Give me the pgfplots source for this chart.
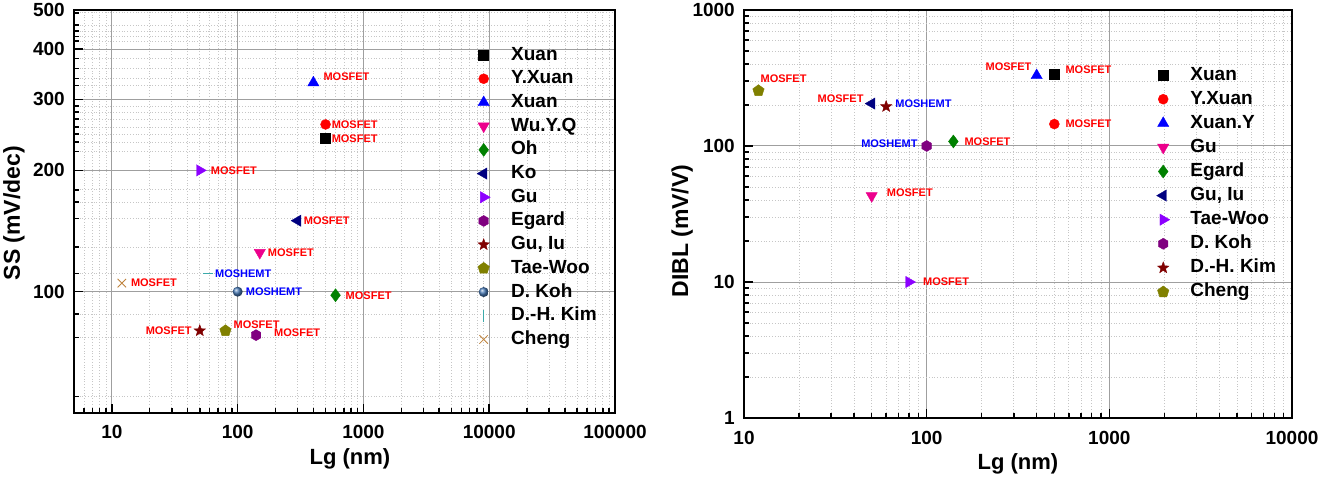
\documentclass[border=0pt]{standalone}
\usepackage{fontspec}
\setmainfont{Liberation Sans}
\usepackage{pgfplots}
\pgfplotsset{compat=1.18}
\definecolor{cviolet}{RGB}{140,0,255}
\definecolor{cgreen}{RGB}{0,128,0}
\definecolor{cnavy}{RGB}{0,0,128}
\definecolor{cpurple}{RGB}{128,0,128}
\definecolor{cdred}{RGB}{128,0,0}
\definecolor{colive}{RGB}{128,128,0}
\definecolor{csteel}{RGB}{70,120,180}
\definecolor{cteal}{RGB}{60,170,170}
\definecolor{ctan}{RGB}{190,130,60}
\pgfdeclareplotmark{hexagon*}{%
  \pgfpathmoveto{\pgfpointpolar{30}{\pgfplotmarksize}}%
  \pgfpathlineto{\pgfpointpolar{90}{\pgfplotmarksize}}%
  \pgfpathlineto{\pgfpointpolar{150}{\pgfplotmarksize}}%
  \pgfpathlineto{\pgfpointpolar{210}{\pgfplotmarksize}}%
  \pgfpathlineto{\pgfpointpolar{270}{\pgfplotmarksize}}%
  \pgfpathlineto{\pgfpointpolar{330}{\pgfplotmarksize}}%
  \pgfpathclose\pgfusepathqfillstroke}
\pgfdeclareplotmark{fstar}{%
  \pgfpathmoveto{\pgfpointpolar{90}{\pgfplotmarksize}}%
  \pgfpathlineto{\pgfpointpolar{126}{0.42\pgfplotmarksize}}%
  \pgfpathlineto{\pgfpointpolar{162}{\pgfplotmarksize}}%
  \pgfpathlineto{\pgfpointpolar{198}{0.42\pgfplotmarksize}}%
  \pgfpathlineto{\pgfpointpolar{234}{\pgfplotmarksize}}%
  \pgfpathlineto{\pgfpointpolar{270}{0.42\pgfplotmarksize}}%
  \pgfpathlineto{\pgfpointpolar{306}{\pgfplotmarksize}}%
  \pgfpathlineto{\pgfpointpolar{342}{0.42\pgfplotmarksize}}%
  \pgfpathlineto{\pgfpointpolar{18}{\pgfplotmarksize}}%
  \pgfpathlineto{\pgfpointpolar{54}{0.42\pgfplotmarksize}}%
  \pgfpathclose\pgfusepathqfillstroke}
\tikzset{lab/.style={font=\bfseries\fontsize{11}{11}\selectfont, text=red, inner sep=0pt},
  labb/.style={lab, text=blue}}
\pgfplotsset{mysharedaxis/.style={
  scale only axis, anchor=south west,
  axis line style={line width=2.5pt},
  tick style={line width=1.5pt, black},
  major tick length=9pt, minor tick length=5pt,
  tick align=inside, tick pos=left,
  grid=both,
  major grid style={draw=gray!75, line width=1pt, solid},
  minor grid style={draw=gray!45, line width=0.8pt, dotted},
  tick label style={font=\bfseries\fontsize{19}{19}\selectfont, inner sep=0pt},
  xticklabel style={yshift=-12pt},
  yticklabel style={xshift=-9pt},
  label style={font=\bfseries\fontsize{22}{22}\selectfont, inner sep=0pt},
  ylabel style={font=\bfseries\fontsize{23}{23}\selectfont, anchor=base},
  xlabel style={anchor=north},
  legend cell align=left,
  legend style={draw=none, fill=none, inner sep=0pt, anchor=north west,
     nodes={inner sep=0pt, text height=14pt, text depth=4pt, font=\bfseries\fontsize{19}{19}\selectfont}},
  every axis plot/.append style={only marks, mark size=5pt},
}}
\begin{document}
\begin{tikzpicture}
\begin{axis}[xmode=log, ymode=log, mysharedaxis,
  legend image code/.code={\draw[mark repeat=2,mark phase=2,#1] plot coordinates {(0pt,0pt)(10pt,0pt)(20pt,0pt)}; \path (0pt,0pt) (37pt,0pt);},
  at={(74pt,64pt)}, width=541pt, height=403pt,
  xmin=5, xmax=100000, ymin=50, ymax=500,
  xtick={10,100,1000,10000,100000}, xticklabels={10,100,1000,10000,100000},
  minor xtick={6,7,8,9,20,30,40,50,60,70,80,90,200,300,400,500,600,700,800,900,2000,3000,4000,5000,6000,7000,8000,9000,20000,30000,40000,50000,60000,70000,80000,90000},
  ytick={100,200,300,400,500}, yticklabels={100,200,300,400,500},
  minor ytick={55,77,88,111,129,152,167,179,223,235,246,256,268,279,289,325,338,358,379,419,430,443,459,492},
  xlabel={Lg (nm)}, ylabel={SS (mV/dec)},
  xlabel style={at={(axis description cs:0.51,0)}, yshift=-35pt},
  ylabel style={at={(axis description cs:-0.1,0.496)}},
  legend style={at={(axis description cs:0.7375,0.911)}, row sep=5.7pt},
]
\addplot[mark=square*, black] coordinates {(500,240)}; \addlegendentry{Xuan}
\addplot[mark=*, red] coordinates {(500,260)}; \addlegendentry{Y.Xuan}
\addplot[mark=triangle*, blue, mark size=6.5pt] coordinates {(400,330)}; \addlegendentry{Xuan}
\addplot[mark=triangle*, magenta, mark size=6.5pt, mark options={rotate=180}] coordinates {(150,125)}; \addlegendentry{Wu.Y.Q}
\addplot[mark=diamond*, cgreen, mark size=6.5pt] coordinates {(600,98)}; \addlegendentry{Oh}
\addplot[mark=triangle*, cnavy, mark size=6.5pt, mark options={rotate=90}] coordinates {(300,150)}; \addlegendentry{Ko}
\addplot[mark=triangle*, cviolet, mark size=6.5pt, mark options={rotate=-90}] coordinates {(50,200)}; \addlegendentry{Gu}
\addplot[mark=hexagon*, cpurple, mark size=5.5pt] coordinates {(140,78)}; \addlegendentry{Egard}
\addplot[mark=fstar, cdred, mark size=6pt] coordinates {(50,80)}; \addlegendentry{Gu, Iu}
\addplot[mark=pentagon*, colive, mark size=6pt] coordinates {(80,80)}; \addlegendentry{Tae-Woo}
\addplot[mark=ball, ball color=csteel, draw=none] coordinates {(100,100)}; \addlegendentry{D. Koh}
\addplot[mark=-, cteal, mark size=5pt, line width=1pt,
  legend image code/.code={\draw[mark=|, mark size=6pt, cteal, line width=1pt] plot coordinates {(10pt,0pt)}; \path (0pt,0pt) (37pt,0pt);}] coordinates {(58,111)}; \addlegendentry{D.-H. Kim}
\addplot[mark=x, ctan, mark size=6pt, line width=0.8pt] coordinates {(12,105)}; \addlegendentry{Cheng}
\node[lab, anchor=west, xshift=6pt] at (axis cs:500,240) {MOSFET};
\node[lab, anchor=west, xshift=6pt] at (axis cs:500,260) {MOSFET};
\node[lab, anchor=west, xshift=10pt, yshift=6pt] at (axis cs:400,330) {MOSFET};
\node[lab, anchor=west, xshift=11pt] at (axis cs:50,200) {MOSFET};
\node[lab, anchor=west, xshift=6pt] at (axis cs:300,150) {MOSFET};
\node[lab, anchor=west, xshift=8pt] at (axis cs:150,125) {MOSFET};
\node[lab, anchor=west, xshift=9pt] at (axis cs:12,105) {MOSFET};
\node[labb, anchor=west, xshift=7pt] at (axis cs:58,111) {MOSHEMT};
\node[labb, anchor=west, xshift=8pt] at (axis cs:100,100) {MOSHEMT};
\node[lab, anchor=east, xshift=-8pt] at (axis cs:50,80) {MOSFET};
\node[lab, anchor=west, xshift=8pt, yshift=6pt] at (axis cs:80,80) {MOSFET};
\node[lab, anchor=west, xshift=18pt, yshift=2pt] at (axis cs:140,78) {MOSFET};
\node[lab, anchor=west, xshift=10pt] at (axis cs:600,98) {MOSFET};
\end{axis}
\begin{axis}[xmode=log, ymode=log, mysharedaxis,
  legend image code/.code={\draw[mark repeat=2,mark phase=2,#1] plot coordinates {(0pt,0pt)(10pt,0pt)(20pt,0pt)}; \path (0pt,0pt) (37pt,0pt);},
  at={(744pt,59pt)}, width=548pt, height=408pt,
  xmin=10, xmax=10000, ymin=1, ymax=1000,
  xtick={10,100,1000,10000}, xticklabels={10,100,1000,10000},
  minor xtick={20,30,40,50,60,70,80,90,200,300,400,500,600,700,800,900,2000,3000,4000,5000,6000,7000,8000,9000},
  ytick={1,10,100,1000}, yticklabels={1,10,100,1000},
  minor ytick={2,3,4,5,6,7,8,9,20,30,40,50,60,70,80,90,200,300,400,500,600,700,800,900},
  xlabel={Lg (nm)}, ylabel={DIBL (mV/V)},
  xticklabel style={yshift=-1pt},
  xlabel style={at={(axis description cs:0.5,0)}, yshift=-35pt},
  ylabel style={at={(axis description cs:-0.102,0.458)}},
  legend style={at={(axis description cs:0.746,0.863)}, row sep=6.1pt},
]
\addplot[mark=square*, black] coordinates {(500,340)}; \addlegendentry{Xuan}
\addplot[mark=*, red] coordinates {(500,145)}; \addlegendentry{Y.Xuan}
\addplot[mark=triangle*, blue, mark size=6.5pt] coordinates {(400,330)}; \addlegendentry{Xuan.Y}
\addplot[mark=triangle*, magenta, mark size=6.5pt, mark options={rotate=180}] coordinates {(50,43)}; \addlegendentry{Gu}
\addplot[mark=diamond*, cgreen, mark size=6.5pt] coordinates {(140,108)}; \addlegendentry{Egard}
\addplot[mark=triangle*, cnavy, mark size=6.5pt, mark options={rotate=90}] coordinates {(50,205)}; \addlegendentry{Gu, Iu}
\addplot[mark=triangle*, cviolet, mark size=6.5pt, mark options={rotate=-90}] coordinates {(80,10)}; \addlegendentry{Tae-Woo}
\addplot[mark=hexagon*, cpurple, mark size=5.5pt] coordinates {(100,100)}; \addlegendentry{D. Koh}
\addplot[mark=fstar, cdred, mark size=6pt] coordinates {(60,195)}; \addlegendentry{D.-H. Kim}
\addplot[mark=pentagon*, colive, mark size=6pt] coordinates {(12,255)}; \addlegendentry{Cheng}
\node[lab, anchor=west, xshift=2pt, yshift=12pt] at (axis cs:12,255) {MOSFET};
\node[lab, anchor=east, xshift=-8pt, yshift=5pt] at (axis cs:50,205) {MOSFET};
\node[labb, anchor=west, xshift=9pt, yshift=3pt] at (axis cs:60,195) {MOSHEMT};
\node[labb, anchor=east, xshift=-9pt, yshift=2pt] at (axis cs:100,100) {MOSHEMT};
\node[lab, anchor=west, xshift=11pt] at (axis cs:140,108) {MOSFET};
\node[lab, anchor=west, xshift=15pt, yshift=3pt] at (axis cs:50,43) {MOSFET};
\node[lab, anchor=west, xshift=14pt] at (axis cs:80,10) {MOSFET};
\node[lab, anchor=east, xshift=-5pt, yshift=9pt] at (axis cs:400,330) {MOSFET};
\node[lab, anchor=west, xshift=11pt, yshift=4pt] at (axis cs:500,340) {MOSFET};
\node[lab, anchor=west, xshift=11pt] at (axis cs:500,145) {MOSFET};
\end{axis}
\pgfresetboundingbox
\path (0pt,0pt) rectangle (1324pt,477pt);
\end{tikzpicture}
\end{document}
